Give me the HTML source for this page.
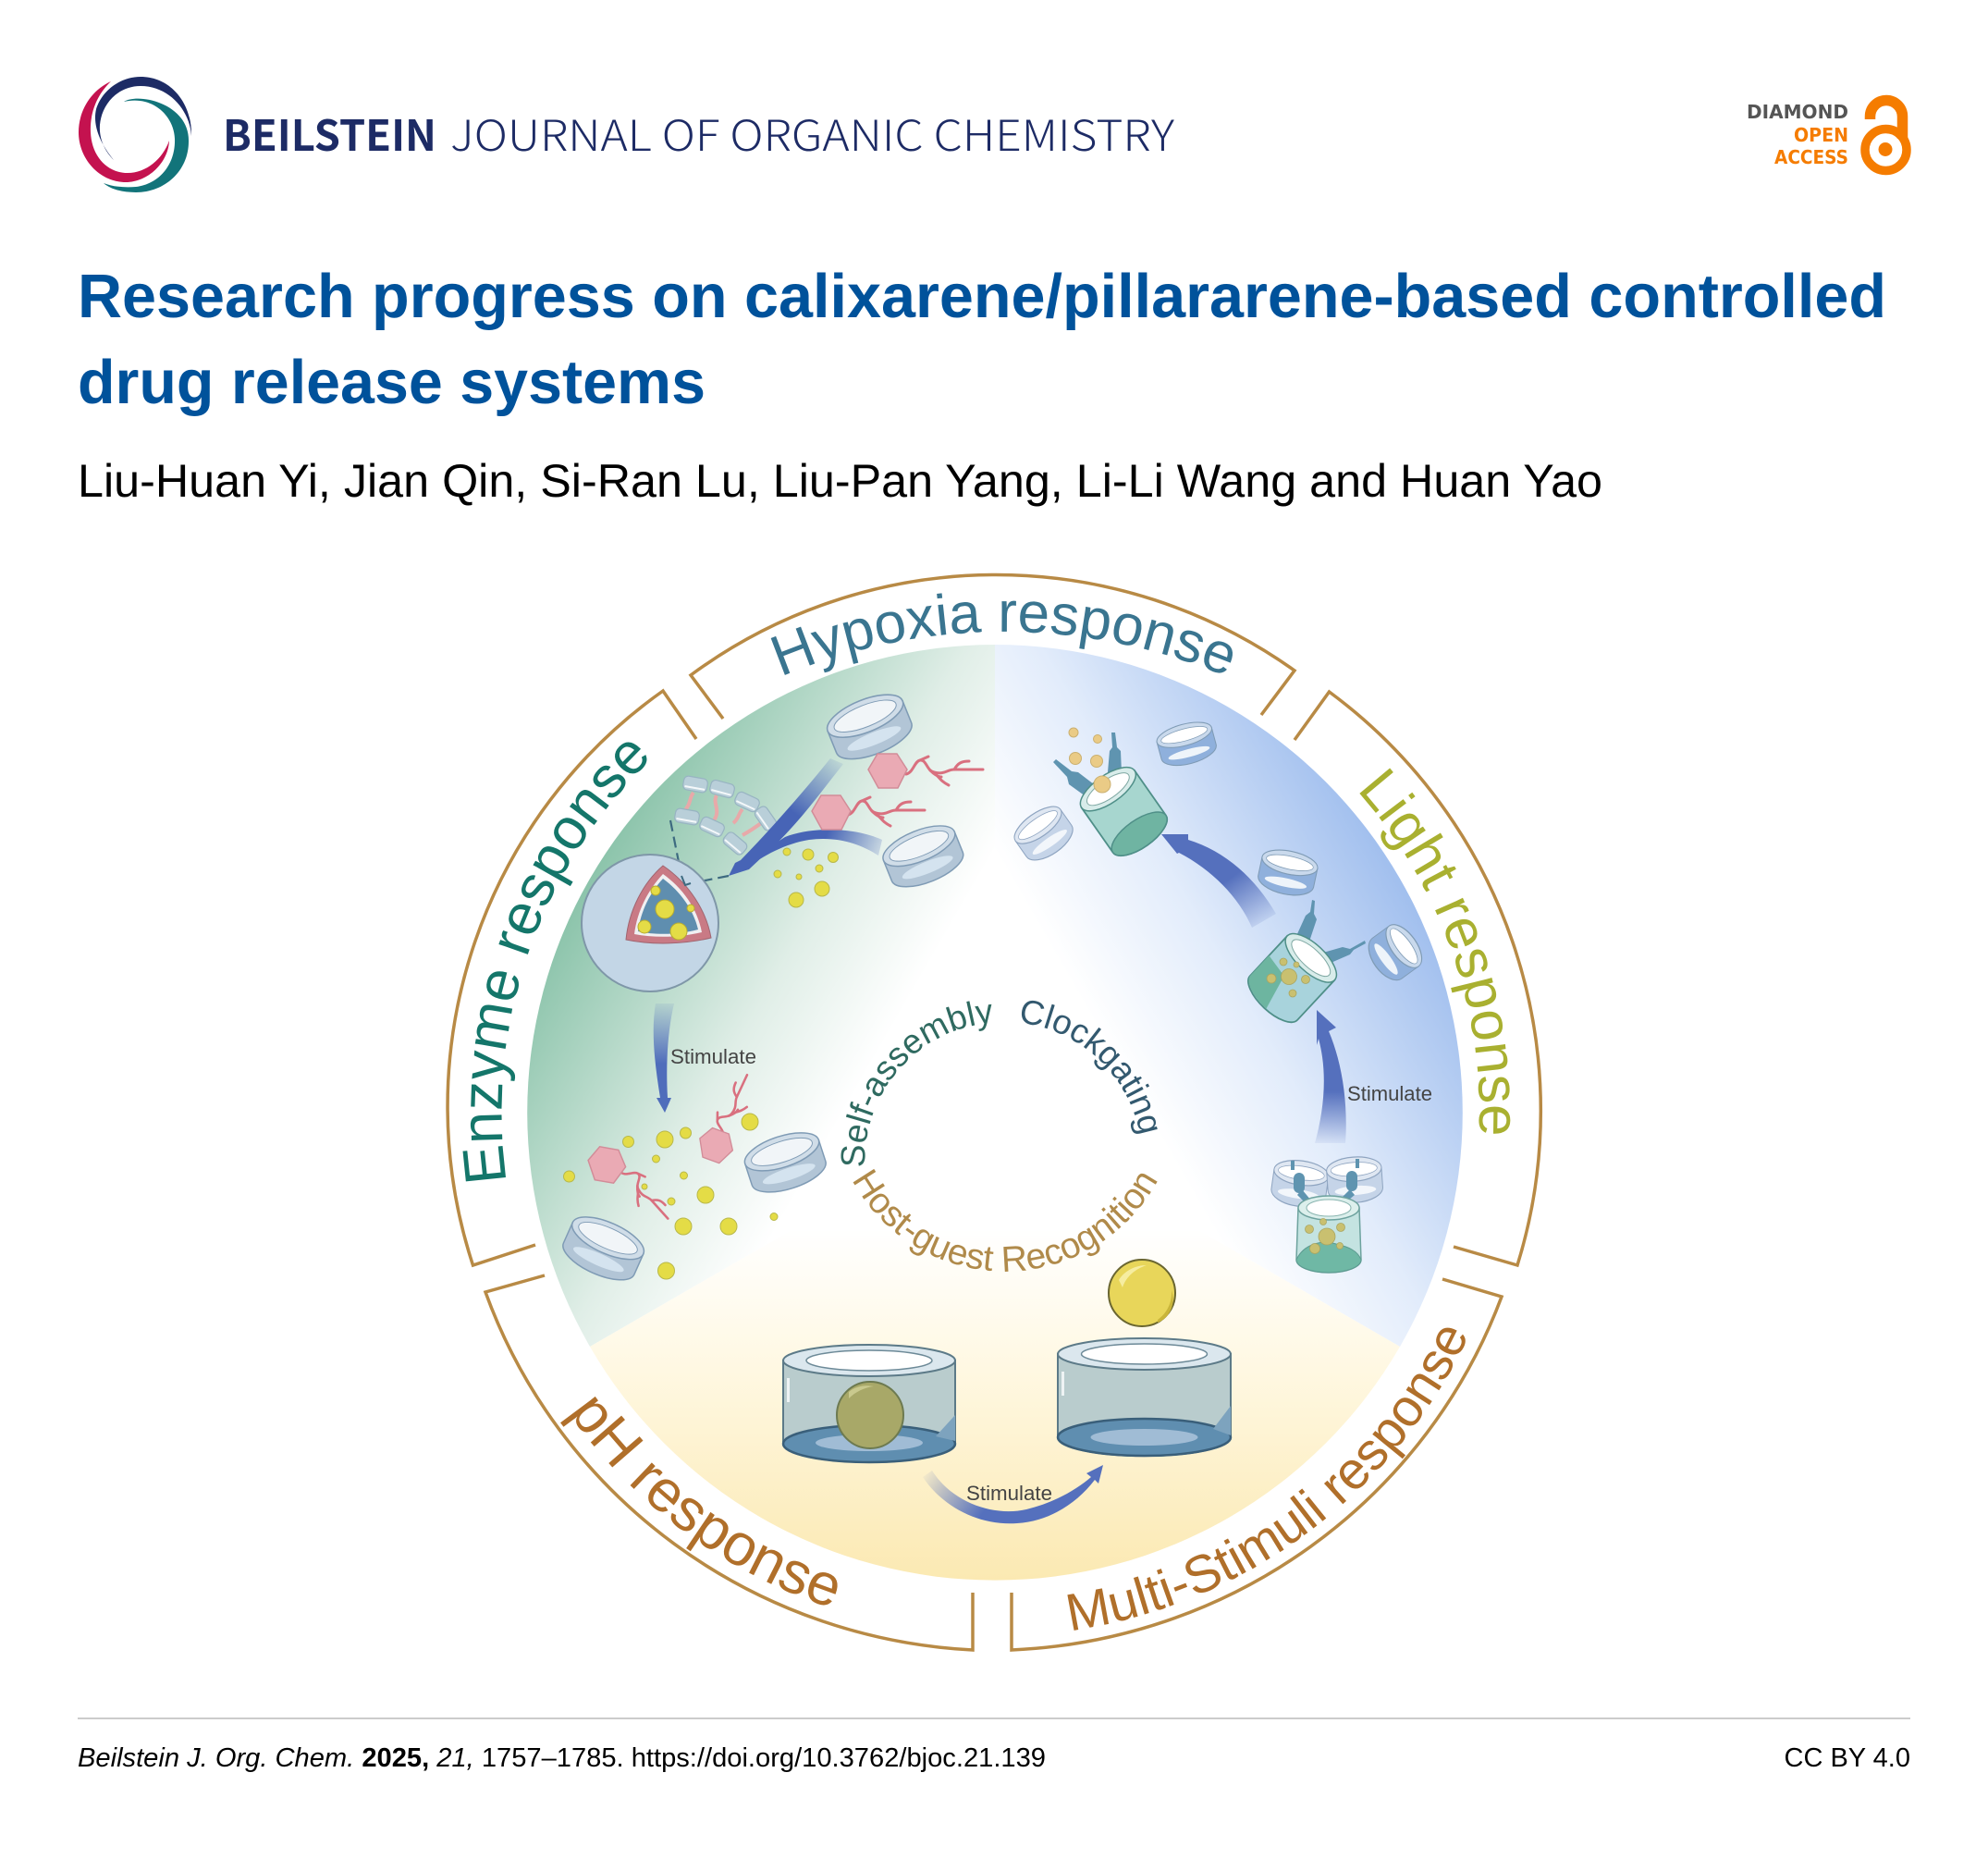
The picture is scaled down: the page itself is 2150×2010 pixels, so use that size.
<!DOCTYPE html>
<html><head><meta charset="utf-8"><style>
html,body{margin:0;padding:0;background:#fff}
svg{display:block}
text{font-family:"Liberation Sans",Arial,sans-serif}
</style></head><body>
<svg xmlns="http://www.w3.org/2000/svg" width="2150" height="2010" viewBox="0 0 2150 2010">
<defs>
<linearGradient id="gG" gradientUnits="userSpaceOnUse" x1="1076" y1="1203" x2="638" y2="950"><stop offset=".28" stop-color="#fff"/><stop offset=".55" stop-color="#e0eee7"/><stop offset="1" stop-color="#8cc4ab"/></linearGradient>
<linearGradient id="gB" gradientUnits="userSpaceOnUse" x1="1076" y1="1203" x2="1514" y2="950"><stop offset=".28" stop-color="#fff"/><stop offset=".58" stop-color="#e2ecfb"/><stop offset="1" stop-color="#a1bfee"/></linearGradient>
<linearGradient id="gY" gradientUnits="userSpaceOnUse" x1="1076" y1="1203" x2="1076" y2="1709"><stop offset=".25" stop-color="#fff"/><stop offset=".55" stop-color="#fff8e2"/><stop offset="1" stop-color="#fbe9b2"/></linearGradient>
<linearGradient id="a1" gradientUnits="userSpaceOnUse" x1="905" y1="820" x2="860" y2="880"><stop offset="0" stop-color="#4f6dbb" stop-opacity=".1"/><stop offset="1" stop-color="#4764b6"/></linearGradient>
<linearGradient id="a2" gradientUnits="userSpaceOnUse" x1="958" y1="925" x2="895" y2="900"><stop offset="0" stop-color="#4f6dbb" stop-opacity=".1"/><stop offset="1" stop-color="#4764b6"/></linearGradient>
<linearGradient id="a3" gradientUnits="userSpaceOnUse" x1="719" y1="1085" x2="719" y2="1150"><stop offset="0" stop-color="#4f6dbb" stop-opacity=".1"/><stop offset="1" stop-color="#4f6dbb"/></linearGradient>
<linearGradient id="a4" gradientUnits="userSpaceOnUse" x1="1365" y1="1000" x2="1330" y2="950"><stop offset="0" stop-color="#5570bd" stop-opacity=".1"/><stop offset="1" stop-color="#5570bd"/></linearGradient>
<linearGradient id="a5" gradientUnits="userSpaceOnUse" x1="1440" y1="1238" x2="1440" y2="1180"><stop offset="0" stop-color="#5570bd" stop-opacity=".05"/><stop offset="1" stop-color="#5570bd"/></linearGradient>
<linearGradient id="a6" gradientUnits="userSpaceOnUse" x1="998" y1="1597" x2="1060" y2="1640"><stop offset="0" stop-color="#5570bd" stop-opacity=".05"/><stop offset="1" stop-color="#5570bd"/></linearGradient>
<g id="ring" stroke="#7f9bb5" stroke-width="1.6">
<path d="M-45-12V14A45 18 0 0 0 45 14V-12Z" fill="#b2c5d6"/>
<ellipse cy="-12" rx="45" ry="18" fill="#d0dde8"/>
<ellipse cy="-12" rx="37" ry="12" fill="#f1f5f8" stroke-width="1"/>
<ellipse cy="15" rx="32" ry="7" fill="#d4e3ef" stroke="none"/>
</g>
<g id="ringB" stroke="#7f9bb5" stroke-width="1.5">
<path d="M-45-12V14A45 18 0 0 0 45 14V-12Z" fill="#8fb0dc"/>
<ellipse cy="-12" rx="45" ry="16" fill="#c9d9ec"/>
<ellipse cy="-12" rx="38" ry="9" fill="#fff" stroke-width="1"/>
<ellipse cy="16" rx="34" ry="6" fill="#eef4fa" stroke="none"/>
</g>
<g id="ringL" stroke="#8ea4c0" stroke-width="1.5">
<path d="M-45-12V14A45 18 0 0 0 45 14V-12Z" fill="#c5d4e8"/>
<ellipse cy="-12" rx="45" ry="16" fill="#dfe7f2"/>
<ellipse cy="-12" rx="38" ry="9" fill="#fff" stroke-width="1"/>
<ellipse cy="16" rx="34" ry="6" fill="#f2f6fb" stroke="none"/>
</g>
<g id="mini"><rect x="-13" y="-7.500" width="26" height="15" rx="5" fill="#b9cfd9" stroke="#98b4c2" stroke-width="1.200"/><path d="M-11 4H11" stroke="#f4f8fa" stroke-width="2"/></g>
<g id="hex"><path d="M-21-2L-11-19H10L21-2L11 18H-10Z" fill="#eaaab4" stroke="#d28c98" stroke-width="1.500"/></g>
<g id="tail" fill="none" stroke="#d9707f" stroke-width="3" stroke-linecap="round" stroke-linejoin="round">
<path d="M0 0C8-2 9-14 15-15C22-16 22-4 30-2C42 1 44-5 52-5H83"/><path d="M15-15L24-19"/><path d="M30-2C36 4 38 8 46 12"/><path d="M52-5C56-12 60-14 68-14"/><path d="M26-4C30 0 34 3 38 3"/>
</g>
</defs>

<!-- header -->
<path d="M123 173C108 155 100 135 104 118C110 98 130 83 152 83C185 83 208 112 207 147C205 118 182 93 152 93C128 93 110 112 108 135C107 150 113 163 123 173Z" fill="#1d2b65"/>
<path d="M120 88C98 98 85 120 85 143C85 172 108 197 136 197C160 197 182 176 183 152C176 172 158 187 138 187C115 187 99 168 98 143C97 122 105 102 120 88Z" fill="#c4124f"/>
<path d="M134 110C150 100 205 112 204 153C204 185 178 208 147 208C133 208 120 205 112 198C122 202 135 203 147 202C172 199 190 178 189 150C188 125 165 103 134 110Z" fill="#12747a"/>
<text x="241" y="163" font-size="46" font-weight="700" fill="#1d2b65" textLength="231" lengthAdjust="spacingAndGlyphs" style='font-family:"Noto Sans CJK JP","Liberation Sans",sans-serif'>BEILSTEIN</text>
<text x="487" y="163" font-size="46" fill="#1d2b65" textLength="783" lengthAdjust="spacingAndGlyphs" style='font-family:"Noto Sans CJK JP","Liberation Sans",sans-serif;font-weight:300'>JOURNAL OF ORGANIC CHEMISTRY</text>

<g text-anchor="end" font-weight="700" font-size="20.500">
<text x="1999" y="128" fill="#555" textLength="110" lengthAdjust="spacingAndGlyphs" style='font-family:"DejaVu Sans",sans-serif'>DIAMOND</text>
<text x="1999" y="153" fill="#f57c00" textLength="59" lengthAdjust="spacingAndGlyphs" style='font-family:"DejaVu Sans",sans-serif'>OPEN</text>
<text x="1999" y="177" fill="#f57c00" textLength="80" lengthAdjust="spacingAndGlyphs" style='font-family:"DejaVu Sans",sans-serif'>ACCESS</text>
</g>
<circle cx="2039.500" cy="162" r="22.500" fill="none" stroke="#f57c00" stroke-width="9.500"/>
<circle cx="2039" cy="161.500" r="7.500" fill="#f57c00"/>
<path d="M2022.500 129V126A17.500 17.500 0 0 1 2057.500 126V150" fill="none" stroke="#f57c00" stroke-width="11.500"/>

<text x="84" y="343" font-size="67" font-weight="700" fill="#00529b" textLength="1956" lengthAdjust="spacingAndGlyphs">Research progress on calixarene/pillararene-based controlled</text>
<text x="84" y="436" font-size="67" font-weight="700" fill="#00529b" textLength="679" lengthAdjust="spacingAndGlyphs">drug release systems</text>
<text x="84" y="537" font-size="50" fill="#000" textLength="1649" lengthAdjust="spacingAndGlyphs">Liu-Huan Yi, Jian Qin, Si-Ran Lu, Liu-Pan Yang, Li-Li Wang and Huan Yao</text>

<!-- disk -->
<path d="M1076 1203L638 1456A506 506 0 0 1 1076 697Z" fill="url(#gG)"/>
<path d="M1076 1203L1076 697A506 506 0 0 1 1514 1456Z" fill="url(#gB)"/>
<path d="M1076 1203L1514 1456A506 506 0 0 1 638 1456Z" fill="url(#gY)"/>

<!-- brackets -->
<g fill="none" stroke="#b88a45" stroke-width="3.500" stroke-linejoin="miter">
<path d="M782 777L747 730A556 556 0 0 1 1400 725L1364 773"/>
<path d="M1400 800L1437.500 748A563 563 0 0 1 1641 1368L1572 1348"/>
<path d="M1560 1383L1624 1402A592 585 0 0 1 1094 1784V1722"/>
<path d="M1052 1722V1784A592 585 0 0 1 525 1397L589 1379"/>
<path d="M579 1346L511.500 1368A550 550 0 0 1 717 747L753 799"/>
</g>

<!-- curved labels -->
<path id="pH1" d="M776 766A620 620 0 0 1 1396 766" fill="none"/>
<path id="pL" d="M1354 759A524 524 0 0 1 1562 1399" fill="none"/>
<path id="pE" d="M578 1394A533 533 0 0 1 801.500 746" fill="none"/>
<path id="pM" d="M1042 1768A566 566 0 0 0 1627 1334" fill="none"/>
<path id="pP" d="M557 1423A564 564 0 0 0 1007 1763" fill="none"/>
<path id="pS" d="M957 1333A150 150 0 0 1 1133 1113" fill="none"/>
<path id="pC" d="M1026 1117A150 150 0 0 1 1219 1323" fill="none"/>
<path id="pHG" d="M900 1206A188 188 0 0 0 1274 1206" fill="none"/>
<g text-anchor="middle">
<text font-size="62" fill="#3a7590"><textPath href="#pH1" startOffset="50%">Hypoxia response</textPath></text>
<text font-size="62" fill="#a9b030" transform="rotate(-1.500 1076 1203)"><textPath href="#pL" startOffset="50%">Light response</textPath></text>
<text font-size="63" fill="#14766a"><textPath href="#pE" startOffset="50%">Enzyme response</textPath></text>
<text font-size="57" fill="#b06f2a"><textPath href="#pM" startOffset="50%">Multi-Stimuli response</textPath></text>
<text font-size="64" fill="#b06f2a" transform="rotate(-.5 1076 1203)"><textPath href="#pP" startOffset="50%">pH response</textPath></text>
<text font-size="37" fill="#2f6a60" transform="rotate(3 1085 1255)"><textPath href="#pS" startOffset="50%">Self-assembly</textPath></text>
<text font-size="37" fill="#33596f" transform="rotate(-4 1085 1255)"><textPath href="#pC" startOffset="50%">Clockgating</textPath></text>
<text font-size="39" fill="#b08a4a"><textPath href="#pHG" startOffset="50%">Host-guest Recognition</textPath></text>
</g>

<!-- green: top chain -->
<g fill="none" stroke="#e8a9a9" stroke-width="4">
<path d="M750 857C745 863 748 868 740 877"/><path d="M775 860C770 868 780 876 772 887"/><path d="M803 875C798 880 800 884 793 890"/><path d="M823 890C815 896 812 898 803 903"/>
</g>
<use href="#mini" transform="translate(752 848) rotate(10)"/>
<use href="#mini" transform="translate(781 853) rotate(15)"/>
<use href="#mini" transform="translate(808 867) rotate(25)"/>
<use href="#mini" transform="translate(828 885) rotate(55)"/>
<use href="#mini" transform="translate(743 883) rotate(10)"/>
<use href="#mini" transform="translate(770 894) rotate(25)"/>
<use href="#mini" transform="translate(795 912) rotate(40)"/>
<path d="M725 887L737 947" fill="none" stroke="#3d6a80" stroke-width="2.200" stroke-dasharray="12 6"/>
<path d="M788 947L747 955" fill="none" stroke="#3d6a80" stroke-width="2.200" stroke-dasharray="12 6"/>

<!-- big sphere -->
<circle cx="703" cy="998" r="74" fill="#c3d6e6" stroke="#7f97a8" stroke-width="2"/>
<path d="M717 936C745 955 764 985 769 1014C740 1021 705 1022 677 1016C680 985 695 955 717 936Z" fill="#c97a85" stroke="#a06570" stroke-width="1"/>
<path d="M717 945C738 960 754 982 759 1008C733 1014 708 1014 686 1010C689 985 701 962 717 945Z" fill="#f0f0f2"/>
<path d="M717 950C736 964 750 984 755 1005C733 1011 708 1011 690 1007C693 985 703 965 717 950Z" fill="#5f8eaf"/>
<g fill="#e4dc46" stroke="#b8ac30" stroke-width="1">
<circle cx="719" cy="983" r="10"/><circle cx="697" cy="1002" r="7"/><circle cx="734" cy="1007" r="9"/><circle cx="709" cy="963" r="5"/><circle cx="747" cy="982" r="4"/>
</g>
<path d="M737 947L741 957L747 955" fill="none" stroke="#3d6a80" stroke-width="2"/>

<!-- arrows -->
<path d="M954 908C925 895 880 893 849 905L818 925L806 940C825 925 850 912 875 908C905 904 930 912 950 925Z" fill="url(#a2)"/>
<path d="M898 820L912 826C885 860 860 895 826 925L810 940L788 947L795 933L801 930C835 895 870 855 898 820Z" fill="url(#a1)"/>
<path d="M709 1085H729C722 1115 720 1150 722 1187H726L719 1203L710 1187H714C708 1150 704 1115 709 1085Z" fill="url(#a3)"/>
<path d="M1380 988L1354 1003C1340 970 1310 940 1275 922L1273 923L1256 902L1285 902L1285 908C1325 920 1358 950 1380 988Z" fill="url(#a4)"/>
<path d="M1455 1236H1422C1432 1200 1436 1160 1426 1123L1424 1130L1424 1092L1445 1111L1437 1115C1452 1150 1458 1195 1455 1236Z" fill="url(#a5)"/>
<path d="M998 1597L1008 1590C1030 1625 1075 1640 1110 1632C1140 1625 1165 1610 1180 1597L1175 1593L1193 1584L1188 1604L1184 1600C1165 1625 1135 1645 1100 1647C1060 1650 1020 1630 998 1597Z" fill="url(#a6)"/>

<!-- green rings -->
<use href="#ring" transform="translate(940 785) rotate(-22) scale(.97)"/>
<use href="#ring" transform="translate(998 925) rotate(-22) scale(.92)"/>
<use href="#ring" transform="translate(849 1256) rotate(-18) scale(.93)"/>
<use href="#ring" transform="translate(653 1349) rotate(24) scale(.93)"/>

<!-- hex + tails -->
<use href="#tail" transform="translate(980 837)"/>
<use href="#hex" transform="translate(960 834)"/>
<use href="#tail" transform="translate(917 881)"/>
<use href="#hex" transform="translate(899 879)"/>
<use href="#tail" transform="translate(782 1228) rotate(-65) scale(.85)"/>
<use href="#hex" transform="translate(774 1239) rotate(20) scale(.9)"/>
<use href="#tail" transform="translate(672 1268) rotate(48) scale(.85)"/>
<use href="#hex" transform="translate(656 1260) rotate(10) scale(.98)"/>

<!-- dots -->
<g fill="#e4dc46" stroke="#b8b84a" stroke-width="1">
<circle cx="851" cy="921" r="4"/><circle cx="874" cy="924" r="6"/><circle cx="901" cy="927" r="5.500"/><circle cx="841" cy="945" r="4"/><circle cx="864" cy="948" r="3"/><circle cx="886" cy="939" r="4"/><circle cx="889" cy="961" r="8"/><circle cx="861" cy="973" r="8"/>
<circle cx="679.500" cy="1234.500" r="6"/><circle cx="719" cy="1232" r="9"/><circle cx="741.500" cy="1225" r="6"/><circle cx="615.500" cy="1272" r="6"/><circle cx="709.500" cy="1253" r="4"/><circle cx="739.500" cy="1271" r="4"/><circle cx="697" cy="1283" r="3"/><circle cx="726" cy="1299" r="4"/><circle cx="763" cy="1292" r="9"/><circle cx="739" cy="1326" r="9"/><circle cx="788" cy="1326" r="9"/><circle cx="837" cy="1315.500" r="4"/><circle cx="811" cy="1213" r="9"/><circle cx="720.500" cy="1374" r="9"/>
</g>

<!-- blue section -->
<use href="#ringB" transform="translate(1283 803) rotate(-15) scale(.68 .72)"/>
<use href="#ringL" transform="translate(1128 900) rotate(-35) scale(.66 .8)"/>
<use href="#ringB" transform="translate(1393 942) rotate(12) scale(.68 .78)"/>
<use href="#ringB" transform="translate(1510 1029) rotate(54) scale(.6 .85)"/>

<!-- top cylinder -->
<g fill="#5f94b0">
<path d="M1139 824L1142 821L1159 834L1166 835L1183 848L1174 861L1156 848L1154 840Z"/>
<path d="M1202 792H1206L1208 808L1212 812L1213 836L1198 835L1200 812L1203 808Z"/>
</g>
<g transform="translate(1215 877) rotate(-35)">
<path d="M-35-29V30A35 15 0 0 0 35 30V-29Z" fill="#a7d6cf" stroke="#4f8f88" stroke-width="1.800"/>
<ellipse cy="30" rx="35" ry="15" fill="#6fb4a2" stroke="#4f8f88" stroke-width="1.500"/>
<ellipse cy="-29" rx="35" ry="15" fill="#d8ecea" stroke="#4f8f88" stroke-width="1.500"/>
<ellipse cy="-29" rx="27" ry="10" fill="#fff" stroke="#7fa8a3" stroke-width="1"/>
</g>
<g fill="#eacb86" stroke="#cbb070" stroke-width="1"><circle cx="1161" cy="792" r="5"/><circle cx="1187" cy="799" r="4.500"/><circle cx="1163" cy="820" r="6.500"/><circle cx="1186" cy="823" r="6.500"/><circle cx="1192" cy="848" r="9"/></g>

<!-- middle cylinder -->
<g fill="#5f94b0">
<path d="M1419 973L1422 974L1421 988L1424 994L1416 1018L1402 1012L1412 990L1417 986Z"/>
<path d="M1476 1017L1477 1020L1464 1027L1460 1032L1437 1042L1431 1030L1452 1024L1460 1026Z"/>
</g>
<g transform="translate(1398 1057) rotate(43)">
<path d="M-35-29V30A35 15 0 0 0 35 30V-29Z" fill="#a8d3dc" stroke="#4f8f88" stroke-width="1.800"/>
<path d="M-35 0V30A35 15 0 0 0 2 44L-8 5Z" fill="#6db5a0"/>
<ellipse cy="-29" rx="35" ry="15" fill="#d8ecea" stroke="#4f8f88" stroke-width="1.500"/>
<ellipse cy="-29" rx="27" ry="10" fill="#fff" stroke="#7fa8a3" stroke-width="1"/>
</g>
<g fill="#c9c070" stroke="#aaa560" stroke-width=".8"><circle cx="1394" cy="1056" r="8.500"/><circle cx="1375" cy="1058" r="5"/><circle cx="1388" cy="1040" r="4"/><circle cx="1412" cy="1059" r="4.500"/><circle cx="1398" cy="1074" r="4"/><circle cx="1402" cy="1043" r="3"/></g>

<!-- bottom right cylinder and rings -->
<use href="#ringL" transform="translate(1406 1278) rotate(8) scale(.66 .82)"/>
<use href="#ringL" transform="translate(1465 1274) rotate(-4) scale(.66 .82)"/>
<g fill="#5f94b0">
<rect x="1399" y="1268" width="12" height="22" rx="6"/><rect x="1456" y="1266" width="12" height="22" rx="6"/>
<rect x="1396" y="1255" width="4" height="10"/><rect x="1466" y="1253" width="4" height="10"/>
<path d="M1408 1286L1418 1298L1413 1302L1403 1292Z"/><path d="M1460 1286L1448 1298L1453 1302L1465 1292Z"/>
</g>
<g>
<path d="M1404 1306L1402 1362A35 14 0 0 0 1472 1362L1470 1306Z" fill="#c4e3e1" stroke="#6da29e" stroke-width="1.500"/>
<path d="M1402 1362C1410 1345 1430 1340 1445 1345C1458 1348 1468 1352 1472 1362A35 14 0 0 1 1402 1362Z" fill="#6fb8a5" stroke="#5c9a90" stroke-width="1"/>
<ellipse cx="1437" cy="1306" rx="33" ry="13" fill="#dcefec" stroke="#6da29e" stroke-width="1.500"/>
<ellipse cx="1437" cy="1306" rx="24" ry="9" fill="#fff" stroke="#8ab5b0" stroke-width="1"/>
</g>
<g fill="#c9c070" stroke="#aaa560" stroke-width=".8"><circle cx="1435" cy="1337" r="9"/><circle cx="1416" cy="1329" r="4.500"/><circle cx="1450" cy="1327" r="4.500"/><circle cx="1431" cy="1321" r="3.500"/><circle cx="1422" cy="1350" r="5.500"/><circle cx="1449" cy="1347" r="3.500"/></g>

<!-- big cylinders -->
<g>
<path d="M847 1471V1561A93 20 0 0 0 1033 1561V1471Z" fill="#b9cccd" stroke="#5c7a88" stroke-width="2"/>
<ellipse cx="940" cy="1561" rx="93" ry="20" fill="#5f8eb0" stroke="#3a5f7a" stroke-width="2.500"/>
<ellipse cx="940" cy="1560" rx="58" ry="9" fill="#a0bcd5"/>
<path d="M1033 1530V1558L1012 1553Z" fill="#7da3be"/>
<circle cx="941" cy="1530" r="36" fill="#a8a868" stroke="#6d7a50" stroke-width="2"/>
<path d="M918 1505C925 1499 935 1497 945 1499C935 1500 925 1505 918 1512Z" fill="#c9c98e"/>
<ellipse cx="940" cy="1471" rx="93" ry="17" fill="#dbe7ee" stroke="#5c7a88" stroke-width="2"/>
<ellipse cx="940" cy="1471" rx="68" ry="11" fill="#fff" stroke="#6d8a98" stroke-width="1.500"/>
<rect x="851" y="1490" width="3" height="26" fill="#eef3f4"/>
</g>
<g>
<path d="M1144 1464V1554A93 20 0 0 0 1331 1554V1464Z" fill="#b9cccd" stroke="#5c7a88" stroke-width="2"/>
<ellipse cx="1237.500" cy="1554" rx="93.500" ry="20" fill="#5f8eb0" stroke="#3a5f7a" stroke-width="2.500"/>
<ellipse cx="1237.500" cy="1554" rx="58" ry="9" fill="#a0bcd5"/>
<path d="M1331 1520V1552L1312 1545Z" fill="#7da3be"/>
<ellipse cx="1237.500" cy="1464" rx="93.500" ry="17" fill="#dbe7ee" stroke="#5c7a88" stroke-width="2"/>
<ellipse cx="1237.500" cy="1464" rx="68" ry="11" fill="#fff" stroke="#6d8a98" stroke-width="1.500"/>
<rect x="1148" y="1483" width="3" height="26" fill="#eef3f4"/>
</g>
<circle cx="1235" cy="1398" r="36" fill="#e8d65a" stroke="#6a6630" stroke-width="2"/>
<path d="M1210 1384C1216 1374 1228 1368 1240 1368C1228 1372 1218 1380 1214 1392Z" fill="#f6eda0"/>
<path d="M1252 1427C1262 1420 1268 1408 1267 1395C1272 1410 1265 1425 1252 1430Z" fill="#c9b53a"/>

<!-- stimulate labels -->
<g font-size="22" fill="#444">
<text x="725" y="1150" textLength="93" lengthAdjust="spacingAndGlyphs">Stimulate</text>
<text x="1457" y="1190" textLength="92" lengthAdjust="spacingAndGlyphs">Stimulate</text>
<text x="1045" y="1622" textLength="93" lengthAdjust="spacingAndGlyphs">Stimulate</text>
</g>

<!-- footer -->
<rect x="84" y="1857" width="1982" height="2" fill="#ccc"/>
<text x="84" y="1910" font-size="28.500" fill="#000" textLength="1047" lengthAdjust="spacingAndGlyphs"><tspan font-style="italic">Beilstein J. Org. Chem.</tspan> <tspan font-weight="700">2025,</tspan> <tspan font-style="italic">21,</tspan> 1757–1785. https://doi.org/10.3762/bjoc.21.139</text>
<text x="2066" y="1910" font-size="29" fill="#000" text-anchor="end">CC BY 4.0</text>
</svg>
</body></html>
